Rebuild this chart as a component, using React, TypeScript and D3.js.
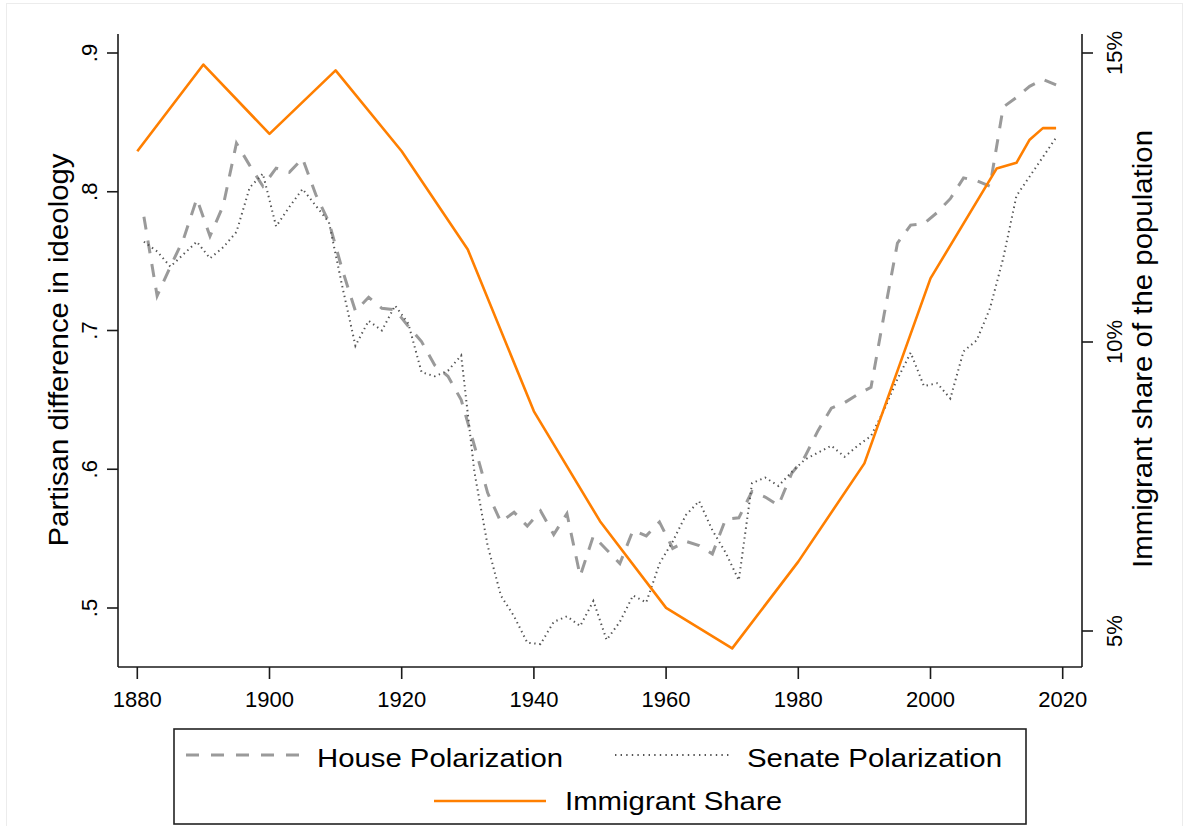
import React from 'react';
import * as d3 from 'd3';

// Congress start years (odd years), DW-NOMINATE party gap
const congressYears = [
  1881, 1883, 1885, 1887, 1889, 1891, 1893, 1895, 1897, 1899,
  1901, 1903, 1905, 1907, 1909, 1911, 1913, 1915, 1917, 1919,
  1921, 1923, 1925, 1927, 1929, 1931, 1933, 1935, 1937, 1939,
  1941, 1943, 1945, 1947, 1949, 1951, 1953, 1955, 1957, 1959,
  1961, 1963, 1965, 1967, 1969, 1971, 1973, 1975, 1977, 1979,
  1981, 1983, 1985, 1987, 1989, 1991, 1993, 1995, 1997, 1999,
  2001, 2003, 2005, 2007, 2009, 2011, 2013, 2015, 2017, 2019,
];

const housePolarization = [
  0.782, 0.725, 0.746, 0.766, 0.795, 0.768, 0.790, 0.835, 0.819, 0.804,
  0.817, 0.814, 0.824, 0.798, 0.778, 0.744, 0.714, 0.724, 0.716, 0.715,
  0.703, 0.692, 0.675, 0.667, 0.650, 0.617, 0.583, 0.562, 0.569, 0.559,
  0.570, 0.553, 0.568, 0.523, 0.552, 0.542, 0.532, 0.556, 0.552, 0.562,
  0.543, 0.548, 0.545, 0.539, 0.564, 0.565, 0.584, 0.580, 0.574, 0.597,
  0.609, 0.628, 0.644, 0.648, 0.654, 0.659, 0.712, 0.763, 0.776, 0.777,
  0.785, 0.795, 0.810, 0.808, 0.804, 0.861, 0.868, 0.876, 0.881, 0.877,
];

const senatePolarization = [
  0.764, 0.757, 0.746, 0.755, 0.764, 0.752, 0.760, 0.771, 0.803, 0.813,
  0.775, 0.789, 0.802, 0.790, 0.778, 0.732, 0.689, 0.707, 0.700, 0.718,
  0.705, 0.670, 0.667, 0.671, 0.682, 0.598, 0.545, 0.509, 0.494, 0.475,
  0.474, 0.490, 0.494, 0.487, 0.505, 0.477, 0.490, 0.509, 0.504, 0.532,
  0.548, 0.567, 0.577, 0.556, 0.540, 0.520, 0.590, 0.594, 0.588, 0.598,
  0.607, 0.612, 0.617, 0.609, 0.617, 0.624, 0.643, 0.665, 0.684, 0.660,
  0.662, 0.651, 0.685, 0.693, 0.716, 0.752, 0.797, 0.811, 0.825, 0.839,
];

// foreign-born share, percent
const immigrantYears = [
  1880, 1890, 1900, 1910, 1920, 1930, 1940, 1950, 1960, 1970,
  1980, 1990, 2000, 2010, 2013, 2015, 2017, 2019,
];
const immigrantShare = [
  13.3, 14.8, 13.6, 14.7, 13.3, 11.6, 8.8, 6.9, 5.4, 4.7,
  6.2, 7.9, 11.1, 13.0, 13.1, 13.5, 13.7, 13.7,
];

const xTicks = [1880, 1900, 1920, 1940, 1960, 1980, 2000, 2020];
const leftTicks = [0.5, 0.6, 0.7, 0.8, 0.9];
const leftTickLabels = ['.5', '.6', '.7', '.8', '.9'];
const rightTicks = [5, 10, 15];
const rightTickLabels = ['5%', '10%', '15%'];

const W = 1186;
const H = 826;
const FONT = '"Liberation Sans", Arial, sans-serif';

const plot = { left: 118, right: 1082, top: 34, bottom: 667 };

const App = () => {
  const x = d3.scaleLinear().domain([1880, 2020]).range([137.3, 1062.7]);
  const yL = d3.scaleLinear().domain([0.5, 0.9]).range([608, 53]);
  const yR = d3.scaleLinear().domain([5, 15]).range([631, 53]);

  const polLine = (vals: number[]) =>
    d3.line<number>()
      .x((_, i) => x(congressYears[i]))
      .y(d => yL(d))(vals) || '';

  const immLine = d3.line<number>()
    .x((_, i) => x(immigrantYears[i]))
    .y(d => yR(d))(immigrantShare) || '';

  const axisColor = '#1a1a1a';

  return (
    <div style={{ position: 'absolute', left: 0, top: 0 }}>
      <svg width={W} height={H} style={{ display: 'block', background: '#fff' }} fontFamily={FONT}>
        <rect x={6.5} y={3.5} width={1176} height={860} fill="none" stroke="#ececec" />

        {/* data lines */}
        <path d={polLine(housePolarization)} fill="none" stroke="#9a9a9a" strokeWidth={3}
          strokeDasharray="13 11" />
        <path d={polLine(senatePolarization)} fill="none" stroke="#555" strokeWidth={2}
          strokeDasharray="1.4 3.6" />
        <path d={immLine} fill="none" stroke="#ff7f00" strokeWidth={2.6} strokeLinejoin="round" />

        {/* axes */}
        <g stroke={axisColor} strokeWidth={1.6} fill="none">
          <line x1={plot.left} x2={plot.left} y1={plot.top} y2={plot.bottom} />
          <line x1={plot.right} x2={plot.right} y1={plot.top} y2={plot.bottom} />
          <line x1={plot.left} x2={plot.right} y1={plot.bottom} y2={plot.bottom} />
          {xTicks.map(t => (
            <line key={t} x1={x(t)} x2={x(t)} y1={plot.bottom} y2={plot.bottom + 12} />
          ))}
          {leftTicks.map(t => (
            <line key={t} x1={plot.left - 11} x2={plot.left} y1={yL(t)} y2={yL(t)} />
          ))}
          {rightTicks.map(t => (
            <line key={t} x1={plot.right} x2={plot.right + 11} y1={yR(t)} y2={yR(t)} />
          ))}
        </g>

        <g fontSize={22} fill="#000">
          {xTicks.map(t => (
            <text key={t} x={x(t)} y={707} textAnchor="middle">{t}</text>
          ))}
          {leftTicks.map((t, i) => (
            <text key={t} transform={`translate(97,${yL(t)}) rotate(-90)`} textAnchor="middle">
              {leftTickLabels[i]}
            </text>
          ))}
          {rightTicks.map((t, i) => (
            <text key={t} transform={`translate(1122,${yR(t)}) rotate(-90)`} textAnchor="middle">
              {rightTickLabels[i]}
            </text>
          ))}
        </g>

        {/* axis titles */}
        <text transform="translate(68,350) rotate(-90)" textAnchor="middle" fontSize={27}
          textLength={393} lengthAdjust="spacingAndGlyphs">
          Partisan difference in ideology
        </text>
        <text transform="translate(1152,349) rotate(-90)" textAnchor="middle" fontSize={27}
          textLength={438} lengthAdjust="spacingAndGlyphs">
          Immigrant share of the population
        </text>

        {/* legend */}
        <rect x={174} y={729} width={852} height={95} fill="#fff" stroke="#222" strokeWidth={1.6} />
        <line x1={186} x2={299} y1={755} y2={755} stroke="#9a9a9a" strokeWidth={3} strokeDasharray="13 12" />
        <text x={317} y={767} fontSize={26} textLength={246} lengthAdjust="spacingAndGlyphs">
          House Polarization
        </text>
        <line x1={615} x2={729} y1={755} y2={755} stroke="#555" strokeWidth={2} strokeDasharray="1.4 4.2" />
        <text x={747} y={767} fontSize={26} textLength={255} lengthAdjust="spacingAndGlyphs">
          Senate Polarization
        </text>
        <line x1={434} x2={546} y1={801} y2={801} stroke="#ff7f00" strokeWidth={2.6} />
        <text x={565} y={810} fontSize={26} textLength={217} lengthAdjust="spacingAndGlyphs">
          Immigrant Share
        </text>
      </svg>
    </div>
  );
};

export default App;
